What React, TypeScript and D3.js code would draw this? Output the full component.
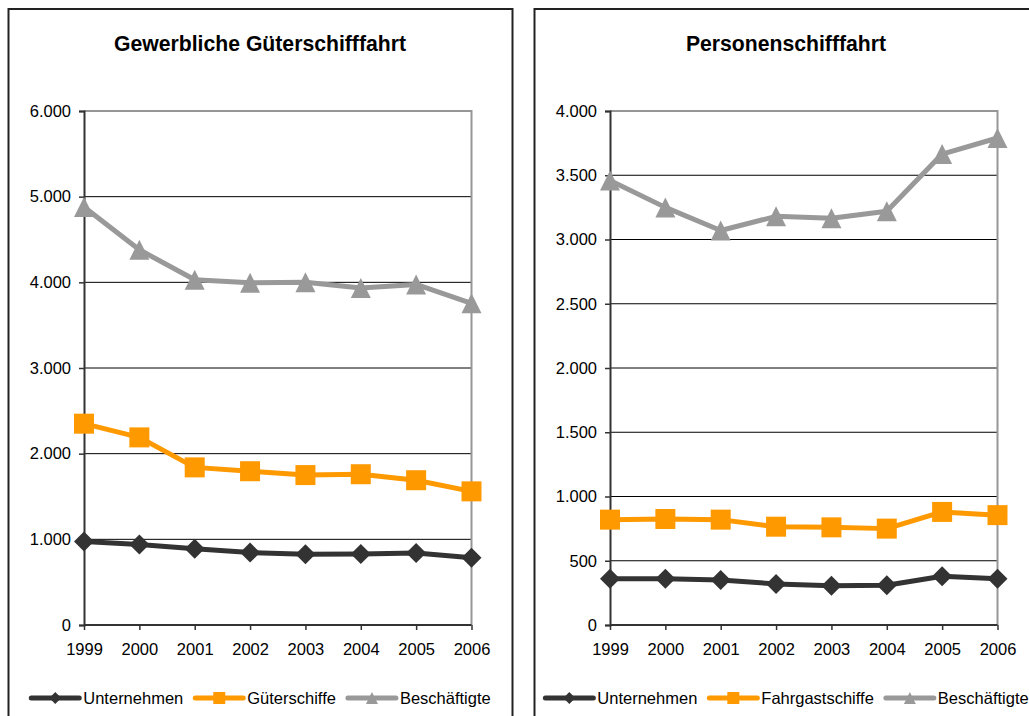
import React, { useRef, useEffect } from "react";
import * as d3 from "d3";

const years = ["1999", "2000", "2001", "2002", "2003", "2004", "2005", "2006"];

// Gewerbliche Güterschifffahrt
const gueterUnternehmen = [975, 940, 890, 845, 825, 830, 840, 785];
const gueterSchiffe = [2350, 2190, 1840, 1795, 1750, 1760, 1690, 1560];
const gueterBeschaeftigte = [4880, 4380, 4030, 3995, 4000, 3935, 3975, 3755];
const gueterTicks = [0, 1000, 2000, 3000, 4000, 5000, 6000];

// Personenschifffahrt
const personenUnternehmen = [360, 360, 350, 320, 305, 310, 380, 360];
const personenSchiffe = [820, 825, 820, 765, 760, 750, 880, 855];
const personenBeschaeftigte = [3460, 3250, 3070, 3180, 3165, 3220, 3665, 3790];
const personenTicks = [0, 500, 1000, 1500, 2000, 2500, 3000, 3500, 4000];

const width = 1029;
const height = 716;
const panelWidth = 504;
const panelTop = 9;
const plot = { left: 76, right: 463.5, top: 111, bottom: 625 };
const font = "'Liberation Sans', Arial, sans-serif";
const labelSize = 16.5;

const dark = "#333333";
const orange = "#FF9900";
const grey = "#999999";

const de = d3.formatLocale({
  decimal: ",",
  thousands: ".",
  grouping: [3],
  currency: ["", " €"],
});
const fmt = de.format(",");

// triangle centred on its bounding box, like the Excel marker
const symbolTri: d3.SymbolType = {
  draw(ctx, size) {
    const r = Math.sqrt(size) / 2;
    ctx.moveTo(0, -r);
    ctx.lineTo(r, r);
    ctx.lineTo(-r, r);
    ctx.closePath();
  },
};

const markers = {
  diamond: { type: d3.symbolDiamond2, size: 255, legend: 90 },
  square: { type: d3.symbolSquare, size: 400, legend: 144 },
  triangle: { type: symbolTri, size: 400, legend: 144 },
};

type Series = { name: string; values: number[]; color: string; marker: keyof typeof markers };

const panels = [
  {
    title: "Gewerbliche Güterschifffahrt",
    x0: 8,
    ticks: gueterTicks,
    series: [
      { name: "Unternehmen", values: gueterUnternehmen, color: dark, marker: "diamond" },
      { name: "Güterschiffe", values: gueterSchiffe, color: orange, marker: "square" },
      { name: "Beschäftigte", values: gueterBeschaeftigte, color: grey, marker: "triangle" },
    ] as Series[],
  },
  {
    title: "Personenschifffahrt",
    x0: 534,
    ticks: personenTicks,
    series: [
      { name: "Unternehmen", values: personenUnternehmen, color: dark, marker: "diamond" },
      { name: "Fahrgastschiffe", values: personenSchiffe, color: orange, marker: "square" },
      { name: "Beschäftigte", values: personenBeschaeftigte, color: grey, marker: "triangle" },
    ] as Series[],
  },
];

const App: React.FC = () => {
  const svgRef = useRef<SVGSVGElement | null>(null);

  useEffect(() => {
    if (!svgRef.current) return;
    const svg = d3.select(svgRef.current);
    svg.selectAll("*").remove();

    panels.forEach((p) => {
      const g = svg.append("g").attr("transform", `translate(${p.x0},0)`);

      // panel frame (bottom edge is below the picture)
      g.append("rect")
        .attr("x", 0.5)
        .attr("y", panelTop)
        .attr("width", panelWidth)
        .attr("height", height + 20)
        .attr("fill", "#fff")
        .attr("stroke", "#222")
        .attr("stroke-width", 2);

      g.append("text")
        .attr("x", panelWidth / 2)
        .attr("y", 51)
        .attr("text-anchor", "middle")
        .attr("font-family", font)
        .attr("font-weight", "bold")
        .attr("font-size", 21.2)
        .text(p.title);

      const x = d3.scalePoint<string>().domain(years).range([plot.left, plot.right]);
      const y = d3
        .scaleLinear()
        .domain([0, d3.max(p.ticks) as number])
        .range([plot.bottom, plot.top]);

      // gridlines
      g.append("g")
        .selectAll("line")
        .data(p.ticks.slice(1, -1))
        .join("line")
        .attr("x1", plot.left)
        .attr("x2", plot.right)
        .attr("y1", (d) => y(d))
        .attr("y2", (d) => y(d))
        .attr("stroke", "#000")
        .attr("stroke-width", 1);

      // top and right frame of plot area
      g.append("path")
        .attr("d", `M${plot.left},${plot.top}H${plot.right}V${plot.bottom}`)
        .attr("fill", "none")
        .attr("stroke", "#969696")
        .attr("stroke-width", 2);

      // y axis
      const yAxis = g
        .append("g")
        .attr("transform", `translate(${plot.left},0)`)
        .call(d3.axisLeft(y).tickValues(p.ticks).tickFormat((d) => fmt(d as number)).tickSize(5).tickPadding(8));
      yAxis.select(".domain").attr("stroke", dark).attr("stroke-width", 2);
      yAxis.selectAll(".tick line").attr("stroke", dark).attr("stroke-width", 1.5);
      yAxis.selectAll("text").attr("font-family", font).attr("font-size", labelSize).attr("fill", "#000");

      // x axis
      const xAxis = g
        .append("g")
        .attr("transform", `translate(0,${plot.bottom})`)
        .call(d3.axisBottom(x).tickSize(5).tickPadding(13));
      xAxis.select(".domain").attr("stroke", dark).attr("stroke-width", 2).attr("d", `M${plot.left},0H${plot.right}`);
      xAxis.selectAll(".tick line").attr("stroke", dark).attr("stroke-width", 1.5);
      xAxis.selectAll("text").attr("font-family", font).attr("font-size", labelSize).attr("fill", "#000");

      const line = d3
        .line<number>()
        .x((_, i) => x(years[i]) as number)
        .y((d) => y(d));

      p.series.forEach((s) => {
        const m = markers[s.marker];
        g.append("path")
          .datum(s.values)
          .attr("fill", "none")
          .attr("stroke", s.color)
          .attr("stroke-width", 5)
          .attr("stroke-linejoin", "round")
          .attr("stroke-linecap", "round")
          .attr("d", line);
        g.append("g")
          .selectAll("path")
          .data(s.values)
          .join("path")
          .attr("transform", (d, i) => `translate(${x(years[i])},${y(d)})`)
          .attr("d", d3.symbol(m.type, m.size)())
          .attr("fill", s.color);
      });

      // legend
      const lineLen = 52;
      const legendY = 698;
      const lg = g.append("g");
      let cursor = 0;
      p.series.forEach((s) => {
        const m = markers[s.marker];
        const item = lg.append("g").attr("transform", `translate(${cursor},0)`);
        item
          .append("line")
          .attr("x1", 2)
          .attr("x2", lineLen - 2)
          .attr("y1", legendY)
          .attr("y2", legendY)
          .attr("stroke", s.color)
          .attr("stroke-width", 5)
          .attr("stroke-linecap", "round");
        item
          .append("path")
          .attr("transform", `translate(${lineLen / 2},${legendY})`)
          .attr("d", d3.symbol(m.type, m.legend)())
          .attr("fill", s.color);
        const t = item
          .append("text")
          .attr("x", lineLen + 2)
          .attr("y", legendY + 6)
          .attr("font-family", font)
          .attr("font-size", labelSize)
          .text(s.name);
        const tw = (t.node() as SVGTextElement).getComputedTextLength();
        cursor += lineLen + 2 + tw + 10;
      });
      const total = cursor - 10;
      lg.attr("transform", `translate(${panelWidth / 2 - total / 2},0)`);
    });
  }, []);

  return (
    <div style={{ position: "absolute", left: 0, top: 0 }}>
      <svg ref={svgRef} width={width} height={height} style={{ display: "block", background: "#fff" }} />
    </div>
  );
};

export default App;
